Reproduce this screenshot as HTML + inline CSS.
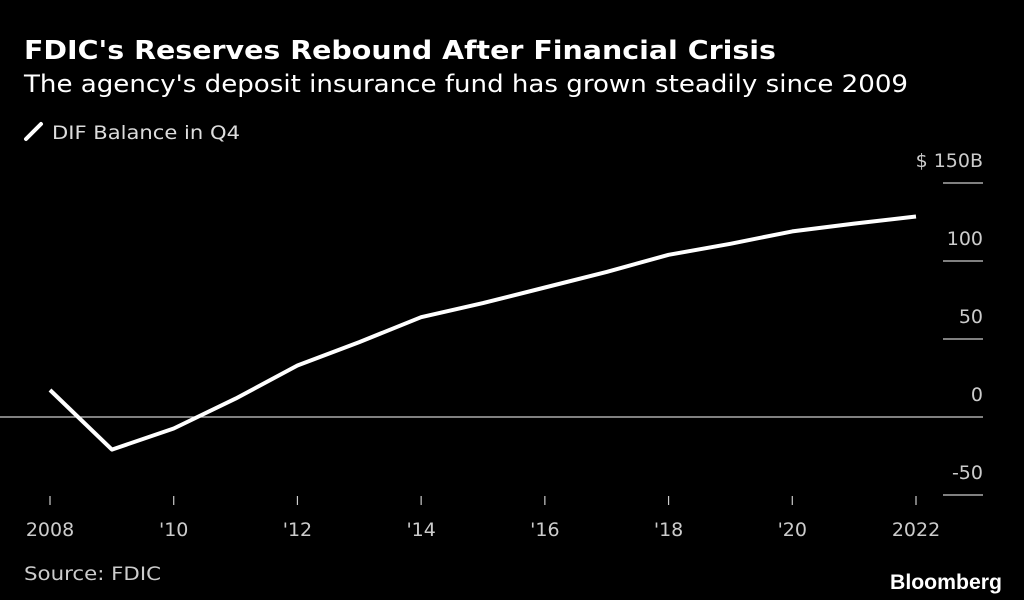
<!DOCTYPE html>
<html><head><meta charset="utf-8"><style>
html,body{margin:0;padding:0;background:#000;}
svg{display:block;font-family:"DejaVu Sans","Liberation Sans",sans-serif;}
</style></head><body>
<svg id="chart" width="1024" height="600" viewBox="0 0 1024 600">
<rect width="1024" height="600" fill="#000"/>
<text x="24" y="59" font-size="26" font-weight="bold" fill="#fff" textLength="752" lengthAdjust="spacingAndGlyphs">FDIC's Reserves Rebound After Financial Crisis</text>
<text x="24" y="92" font-size="24" fill="#fff" textLength="884" lengthAdjust="spacingAndGlyphs">The agency's deposit insurance fund has grown steadily since 2009</text>
<g>
<line x1="26" y1="139" x2="41" y2="124" stroke="#fff" stroke-width="4" stroke-linecap="round"/>
<text x="52" y="139" font-size="19" fill="#ddd" textLength="188" lengthAdjust="spacingAndGlyphs">DIF Balance in Q4</text>
</g>
<g id="yaxis"></g>
<g id="xaxis"></g>
<path id="line" fill="none" stroke="#fff" stroke-width="4" stroke-linejoin="round"/>
<text x="24" y="580" font-size="19" fill="#ccc" textLength="137" lengthAdjust="spacingAndGlyphs">Source: FDIC</text>
<text x="1002" y="589" font-size="21" font-weight="bold" fill="#fff" text-anchor="end" textLength="112" lengthAdjust="spacingAndGlyphs" font-family="Liberation Sans, sans-serif">Bloomberg</text>
</svg>
<script>
const years = [2008,2009,2010,2011,2012,2013,2014,2015,2016,2017,2018,2019,2020,2021,2022];
const values = [17.3,-20.9,-7.4,11.8,33,48,64,73,83,93,104,111,119,124,128.5];
const yTicks = [150,100,50,0,-50];
const yTickLabels = ["$ 150B","100","50","0","-50"];
const xTicks = [2008,2010,2012,2014,2016,2018,2020,2022];
const xTickLabels = ["2008","'10","'12","'14","'16","'18","'20","2022"];
const NS="http://www.w3.org/2000/svg";
const xs=y=>50+(y-2008)*(916-50)/14;
const ys=v=>417-v*78/50;
function mk(tag,attrs,parent){const e=document.createElementNS(NS,tag);for(const k in attrs)e.setAttribute(k,attrs[k]);parent.appendChild(e);return e;}
const ya=document.getElementById('yaxis');
yTicks.forEach((t,i)=>{
  const y=ys(t);
  const l=mk('line',{x1:t===0?0:943,x2:983,y1:y,y2:y,stroke:'#ccc','stroke-width':1.2},ya);
  
  
  const tx=mk('text',{x:983,y:y-16,'text-anchor':'end','font-size':19,fill:'#ccc'},ya);
  tx.textContent=yTickLabels[i];
  
  
});
const xa=document.getElementById('xaxis');
xTicks.forEach((t,i)=>{
  const x=xs(t);
  const l=mk('line',{x1:x,x2:x,y1:496,y2:505,stroke:'#ccc','stroke-width':1.2},xa);
  
  
  const tx=mk('text',{x:x,y:536,'text-anchor':'middle','font-size':19,fill:'#ccc'},xa);
  tx.textContent=xTickLabels[i];
  
  
});
document.getElementById('line').setAttribute('d',years.map((y,i)=>(i?'L':'M')+xs(y).toFixed(1)+','+ys(values[i]).toFixed(1)).join(' '));
</script>
</body></html>
